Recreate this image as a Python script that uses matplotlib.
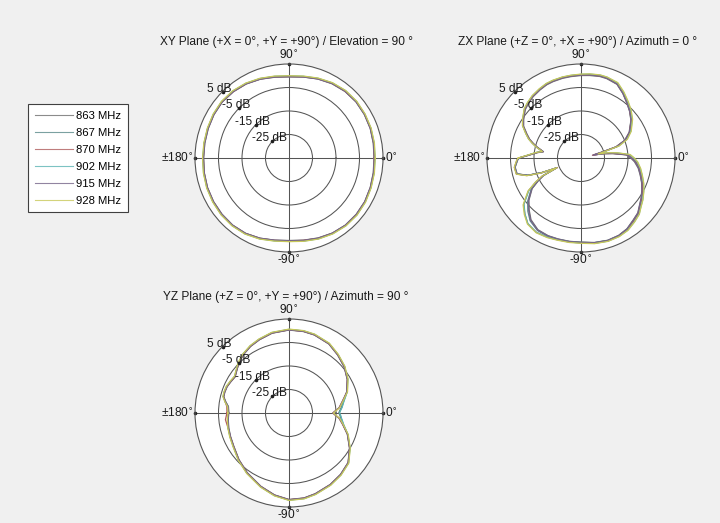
import numpy as np
import matplotlib
matplotlib.use('Agg')
import matplotlib.pyplot as plt
from matplotlib.lines import Line2D
from matplotlib import transforms

plt.rcParams['font.family'] = ['Liberation Sans', 'DejaVu Sans']
plt.rcParams['mathtext.fontset'] = 'dejavusans'

# ---------------- data ----------------
FREQ_LABELS = ['863 MHz', '867 MHz', '870 MHz', '902 MHz', '915 MHz', '928 MHz']

R_TICKS = [-25, -15, -5, 5]
R_TICK_LABELS = ['-25 dB', '-15 dB', '-5 dB', '5 dB']
ANGLE_LABELS = ['0$^{\\circ}$', '90$^{\\circ}$', '\u00b1180$^{\\circ}$', '-90$^{\\circ}$']

TITLE_XY = 'XY Plane (+X = 0\u00b0, +Y = +90\u00b0) / Elevation = 90 \u00b0'
TITLE_ZX = 'ZX Plane (+Z = 0\u00b0, +X = +90\u00b0) / Azimuth = 0 \u00b0'
TITLE_YZ = 'YZ Plane (+Z = 0\u00b0, +Y = +90\u00b0) / Azimuth = 90 \u00b0'

# XY plane (deg, dB)
XY_ANG = [0, 10, 20, 30, 40, 50, 60, 70, 80, 90, 100, 110,
          120, 130, 140, 150, 160, 170, 180, 190, 200, 210, 220, 230,
          240, 250, 260, 270, 280, 290, 300, 310, 320, 330, 340, 350]
XY_863 = [1.2, 1.4, 1.8, 2.0, 2.2, 2.0, 1.5, 0.8, 0.0, -0.5, -0.1, 0.7, 1.4, 1.8, 2.1, 1.9, 1.6, 1.4,
          1.3, 1.6, 1.9, 2.1, 2.2, 2.3, 2.0, 1.3, 0.5, 0.1, 0.5, 1.2, 1.9, 2.3, 2.3, 2.2, 1.8, 1.4]
XY_867 = [1.5, 1.7, 2.0, 2.2, 2.4, 2.3, 1.8, 1.0, 0.2, -0.2, 0.2, 0.9, 1.6, 2.1, 2.3, 2.1, 1.8, 1.6,
          1.6, 1.8, 2.1, 2.3, 2.5, 2.5, 2.2, 1.5, 0.7, 0.4, 0.8, 1.5, 2.1, 2.5, 2.6, 2.4, 2.0, 1.7]
XY_870 = [1.3, 1.6, 1.9, 2.2, 2.3, 2.1, 1.7, 0.9, 0.1, -0.3, 0.1, 0.8, 1.5, 1.9, 2.2, 2.0, 1.8, 1.6,
          1.5, 1.7, 2.0, 2.2, 2.4, 2.4, 2.1, 1.4, 0.6, 0.3, 0.6, 1.4, 2.0, 2.4, 2.5, 2.3, 1.9, 1.6]
XY_902 = [1.6, 1.8, 2.1, 2.3, 2.5, 2.4, 1.9, 1.1, 0.3, -0.1, 0.3, 1.0, 1.7, 2.2, 2.4, 2.2, 1.9, 1.7,
          1.7, 1.9, 2.2, 2.4, 2.6, 2.6, 2.3, 1.6, 0.8, 0.5, 0.9, 1.6, 2.2, 2.6, 2.7, 2.5, 2.1, 1.8]
XY_915 = [1.3, 1.5, 1.8, 2.1, 2.2, 2.1, 1.6, 0.8, 0.0, -0.4, 0.0, 0.7, 1.4, 1.9, 2.1, 1.9, 1.6, 1.4,
          1.4, 1.6, 1.9, 2.1, 2.3, 2.3, 2.0, 1.3, 0.5, 0.2, 0.6, 1.3, 1.9, 2.3, 2.4, 2.2, 1.8, 1.5]
XY_928 = [1.7, 1.9, 2.2, 2.4, 2.6, 2.5, 2.0, 1.2, 0.4, 0.0, 0.4, 1.1, 1.8, 2.3, 2.5, 2.3, 2.0, 1.8,
          1.8, 2.0, 2.3, 2.5, 2.7, 2.7, 2.4, 1.7, 0.9, 0.6, 1.0, 1.7, 2.3, 2.7, 2.8, 2.6, 2.2, 1.9]

# ZX plane (deg, dB)
ZX_ANG = [-180, -178, -172, -166, -162, -159.5, -158, -155, -152, -148,
          -141, -135, -129, -121, -113, -106, -98, -90, -81, -72,
          -64, -57, -50, -44, -40, -34, -28, -22, -16, -10,
          -4, 0, 4, 8, 11, 13.5, 15.8, 17.6, 22, 28,
          37, 44, 50, 57, 64, 72, 77, 84, 90, 97,
          103, 110, 115, 121, 128, 134, 139, 146, 151, 156,
          160, 163, 166, 170.5, 173, 176.5]
ZX_863 = [-8.7, -8.0, -6.7, -7.0, -11.3, -17.5, -23.5, -17.5, -14.5, -10.5,
          -6.5, -3.8, -1.2, 0.6, 0.9, 0.8, 0.8, 0.8, 1.4, 1.8,
          1.6, 0.9, -0.5, -1.4, -2.7, -4.2, -5.7, -7.2, -8.8, -10.3,
          -12.2, -13.8, -15.8, -21.5, -25.5, -29.5, -25.5, -19.5, -15.0, -11.8,
          -8.4, -6.3, -4.6, -2.3, -0.1, 0.5, 0.6, 0.3, 0.1, -0.1,
          -0.2, -0.4, -0.6, -1.2, -1.9, -2.8, -3.6, -5.6, -7.1, -9.8,
          -11.8, -13.8, -15.8, -18.8, -16.3, -13.3]
ZX_867 = [-8.5, -7.8, -6.5, -6.8, -11.0, -17.0, -24.0, -17.2, -14.0, -10.0,
          -5.8, -3.0, -0.6, 1.0, 1.2, 1.0, 0.9, 0.9, 1.5, 1.9,
          1.8, 1.1, -0.2, -1.1, -2.4, -3.8, -5.2, -6.7, -8.2, -9.6,
          -11.5, -13.2, -15.0, -20.5, -24.5, -29.0, -24.8, -18.8, -14.4, -11.3,
          -8.0, -5.9, -4.2, -1.9, 0.3, 0.9, 1.0, 0.7, 0.5, 0.3,
          0.2, 0.0, -0.2, -0.8, -1.5, -2.4, -3.2, -5.2, -6.7, -9.4,
          -11.4, -13.4, -15.4, -18.5, -15.9, -12.9]
ZX_870 = [-8.4, -7.7, -6.4, -6.7, -10.8, -16.8, -24.2, -16.8, -13.2, -8.6,
          -3.6, -1.2, 1.0, 1.9, 1.6, 1.2, 1.1, 1.1, 1.7, 2.1,
          1.9, 1.3, -0.1, -1.0, -2.4, -3.9, -5.4, -6.9, -8.5, -9.9,
          -11.6, -13.4, -15.2, -21.0, -25.0, -30.0, -25.2, -19.2, -14.7, -11.6,
          -8.2, -6.1, -4.4, -2.1, 0.1, 0.8, 0.9, 0.6, 0.4, 0.2,
          0.1, -0.1, -0.3, -0.9, -1.6, -2.5, -3.3, -5.3, -6.8, -9.5,
          -11.5, -13.5, -15.5, -18.6, -16.0, -13.0]
ZX_902 = [-8.6, -7.9, -6.6, -6.9, -11.1, -17.2, -23.8, -17.0, -13.3, -8.8,
          -3.8, -1.3, 0.9, 1.9, 1.6, 1.2, 1.1, 1.2, 1.8, 2.2,
          2.1, 1.6, 0.4, -0.6, -1.9, -3.3, -4.8, -6.3, -7.9, -9.4,
          -11.0, -12.5, -14.3, -19.5, -23.5, -28.0, -23.8, -18.2, -14.0, -11.0,
          -7.7, -5.6, -3.9, -1.7, 0.5, 1.1, 1.2, 0.9, 0.6, 0.4,
          0.3, 0.1, -0.1, -0.7, -1.4, -2.3, -3.1, -5.1, -6.6, -9.3,
          -11.3, -13.3, -15.3, -18.4, -15.8, -12.8]
ZX_915 = [-8.6, -7.9, -6.6, -6.9, -11.2, -17.3, -23.6, -17.4, -14.3, -10.3,
          -6.2, -3.5, -0.9, 0.8, 1.0, 0.9, 0.9, 0.9, 1.5, 1.9,
          1.7, 1.0, -0.4, -1.3, -2.6, -4.1, -5.6, -7.1, -8.7, -10.1,
          -11.9, -13.6, -15.5, -21.2, -25.3, -29.8, -25.3, -19.3, -14.8, -11.7,
          -8.3, -6.2, -4.5, -2.2, 0.0, 0.7, 0.8, 0.5, 0.3, 0.1,
          0.0, -0.2, -0.4, -1.0, -1.7, -2.6, -3.4, -5.4, -6.9, -9.6,
          -11.6, -13.6, -15.6, -18.7, -16.1, -13.1]
ZX_928 = [-8.3, -7.6, -6.3, -6.6, -10.7, -16.6, -24.0, -16.6, -13.0, -8.4,
          -3.3, -0.9, 1.2, 2.1, 1.8, 1.4, 1.3, 1.3, 1.9, 2.3,
          2.2, 1.7, 0.5, -0.5, -1.8, -3.2, -4.7, -6.2, -7.8, -9.2,
          -10.8, -12.3, -14.0, -19.2, -23.2, -27.5, -23.4, -17.9, -13.7, -10.8,
          -7.5, -5.4, -3.7, -1.5, 0.7, 1.2, 1.3, 1.0, 0.7, 0.5,
          0.4, 0.2, 0.0, -0.6, -1.3, -2.2, -3.0, -5.0, -6.5, -9.2,
          -11.2, -13.2, -15.2, -18.3, -15.7, -12.7]

# YZ plane (deg, dB)
YZ_ANG = [-180, -174, -166, -158, -149, -137, -125, -111, -100, -90,
          -80, -72, -60, -50, -40, -30, -20, -12, -6, -2,
          0, 2, 6, 12, 20, 30, 40, 50, 60, 72,
          80, 90, 102, 112, 120, 128, 135, 141, 146, 152,
          157, 162, 166, 170, 174]
YZ_863 = [-9.4, -9.0, -8.6, -8.2, -7.6, -5.9, -4.0, -1.6, 0.4, 1.8, 1.7, 1.1, 0.1, -0.9, -2.2, -5.3, -8.6, -11.5, -12.8, -13.4,
          -13.8, -13.5, -12.6, -11.4, -8.9, -6.4, -4.4, -2.8, -1.1, -0.1, 0.2, 0.3, -0.3, -1.4, -2.3, -3.5, -4.9, -6.4, -7.4, -6.9,
          -6.4, -6.3, -6.4, -7.7, -9.1]
YZ_867 = [-9.2, -8.8, -8.4, -8.0, -7.4, -5.7, -3.8, -1.4, 0.6, 2.0, 1.9, 1.3, 0.3, -0.7, -2.0, -5.1, -8.4, -11.3, -12.6, -13.2,
          -13.6, -13.3, -12.4, -11.2, -8.7, -6.2, -4.2, -2.6, -0.9, 0.1, 0.4, 0.5, -0.1, -1.2, -2.1, -3.3, -4.7, -6.2, -7.2, -6.7,
          -6.2, -6.1, -6.2, -7.5, -8.9]
YZ_870 = [-8.6, -7.8, -8.3, -8.1, -7.5, -5.8, -3.9, -1.5, 0.5, 1.9, 1.8, 1.2, 0.2, -0.8, -2.1, -5.2, -8.5, -11.7, -13.6, -15.6,
          -16.4, -15.6, -13.6, -11.9, -8.8, -6.3, -4.3, -2.7, -1.0, 0.0, 0.3, 0.4, -0.2, -1.3, -2.2, -3.4, -4.8, -6.3, -7.3, -6.8,
          -6.3, -6.2, -6.3, -7.4, -8.4]
YZ_902 = [-9.1, -8.7, -8.3, -7.9, -7.3, -5.6, -3.7, -1.3, 0.7, 2.1, 2.0, 1.4, 0.4, -0.6, -1.9, -5.0, -8.3, -11.2, -12.5, -13.1,
          -13.5, -13.2, -12.3, -11.1, -8.6, -6.1, -4.1, -2.5, -0.8, 0.2, 0.5, 0.6, 0.0, -1.1, -2.0, -3.2, -4.6, -6.1, -7.1, -6.6,
          -6.1, -6.0, -6.1, -7.4, -8.8]
YZ_915 = [-9.3, -8.9, -8.5, -8.1, -7.5, -5.8, -3.9, -1.5, 0.5, 1.9, 1.8, 1.2, 0.2, -0.8, -2.1, -5.2, -8.5, -11.6, -13.5, -15.5,
          -16.3, -15.5, -13.5, -11.8, -8.8, -6.3, -4.3, -2.7, -1.0, 0.0, 0.3, 0.4, -0.2, -1.3, -2.2, -3.4, -4.8, -6.3, -7.3, -6.8,
          -6.3, -6.2, -6.3, -7.6, -9.0]
YZ_928 = [-9.0, -8.6, -8.2, -7.8, -7.2, -5.5, -3.6, -1.2, 0.8, 2.2, 2.1, 1.5, 0.5, -0.5, -1.8, -4.9, -8.2, -11.4, -13.3, -15.3,
          -16.1, -15.3, -13.3, -11.6, -8.5, -6.0, -4.0, -2.4, -0.7, 0.3, 0.6, 0.7, 0.1, -1.0, -1.9, -3.1, -4.5, -6.0, -7.0, -6.5,
          -6.0, -5.9, -6.0, -7.3, -8.7]

# ---------------- style ----------------
COLORS = ['#6e6e6e', '#5a8a8a', '#b05c5c', '#5cb4b4', '#76668a', '#c8c85a']
GRID = '#555555'
W, H = 720, 523
RPIX = 94
FS = 8.6

fig = plt.figure(figsize=(W / 100, H / 100), dpi=100, facecolor='#f0f0f0')


def panel(cx, cy, title, ty, angles, series):
    ax = fig.add_axes([(cx - RPIX) / W, 1 - (cy + RPIX) / H, 2 * RPIX / W, 2 * RPIX / H],
                      projection='polar')
    ax.set_facecolor('white')
    ax.set_theta_zero_location('E')
    ax.set_ylim(-35, 5)
    ax.set_xticks(np.deg2rad([0, 90, 180, 270]))
    ax.set_xticklabels([])
    ax.set_yticks(R_TICKS[:-1])
    ax.set_yticklabels([])
    ax.tick_params(length=0)
    ax.grid(True, color=GRID, lw=0.75, ls='-')
    ax.spines['polar'].set_color(GRID)
    ax.spines['polar'].set_linewidth(0.8)
    for vals, col in zip(series, COLORS):
        assert len(vals) == len(angles)
        th = np.deg2rad(np.r_[angles, angles[0] + 360])
        rr = np.r_[vals, vals[0]]
        ax.plot(th, rr, color=col, lw=0.9)
    # radial labels
    lab_tr = transforms.offset_copy(ax.transData, fig=fig, x=-3, y=0, units='dots')
    for r, lab in zip(R_TICKS, R_TICK_LABELS):
        ax.text(np.deg2rad(135), r, lab, transform=lab_tr, ha='center', va='baseline',
                fontsize=FS, color='#1a1a1a')
    ax.plot(np.full(len(R_TICKS), np.deg2rad(135)), R_TICKS, ls='none', marker='o',
            ms=1.6, color='#202020', clip_on=False)
    ax.plot(np.deg2rad([0, 90, 180, 270]), [5, 5, 5, 5], ls='none', marker='o',
            ms=1.6, color='#202020', clip_on=False)
    # angle labels
    specs = [(0, 2, 0, 'left', 'center'), (90, 0, 2, 'center', 'bottom'),
             (180, -2, 0, 'right', 'center'), (270, 0, -2, 'center', 'top')]
    for (ang, dx, dy, ha, va), lab in zip(specs, ANGLE_LABELS):
        tr = transforms.offset_copy(ax.transData, fig=fig, x=dx, y=dy, units='dots')
        ax.text(np.deg2rad(ang), 5, lab, transform=tr, ha=ha, va=va, fontsize=FS,
                color='#1a1a1a')
    fig.text((cx - 3) / W, 1 - ty / H, title, ha='center', va='center', fontsize=FS,
             color='#1a1a1a')
    return ax


panel(289, 158, TITLE_XY, 42, XY_ANG, [XY_863, XY_867, XY_870, XY_902, XY_915, XY_928])
panel(581, 158, TITLE_ZX, 42, ZX_ANG, [ZX_863, ZX_867, ZX_870, ZX_902, ZX_915, ZX_928])
panel(289, 413, TITLE_YZ, 297, YZ_ANG, [YZ_863, YZ_867, YZ_870, YZ_902, YZ_915, YZ_928])

handles = [Line2D([], [], color=c, lw=0.8, alpha=0.8) for c in COLORS]
leg = fig.legend(handles, FREQ_LABELS, loc='upper left',
                 bbox_to_anchor=(28 / W, 1 - 104 / H), bbox_transform=fig.transFigure,
                 borderaxespad=0, frameon=True, fancybox=False, edgecolor='#404040',
                 facecolor='white', framealpha=1, fontsize=8.1, handlelength=3.4,
                 handletextpad=0.3, labelspacing=0.62, borderpad=0.6)
leg.get_frame().set_linewidth(0.8)

fig.savefig('out.png', dpi=100, facecolor=fig.get_facecolor())
